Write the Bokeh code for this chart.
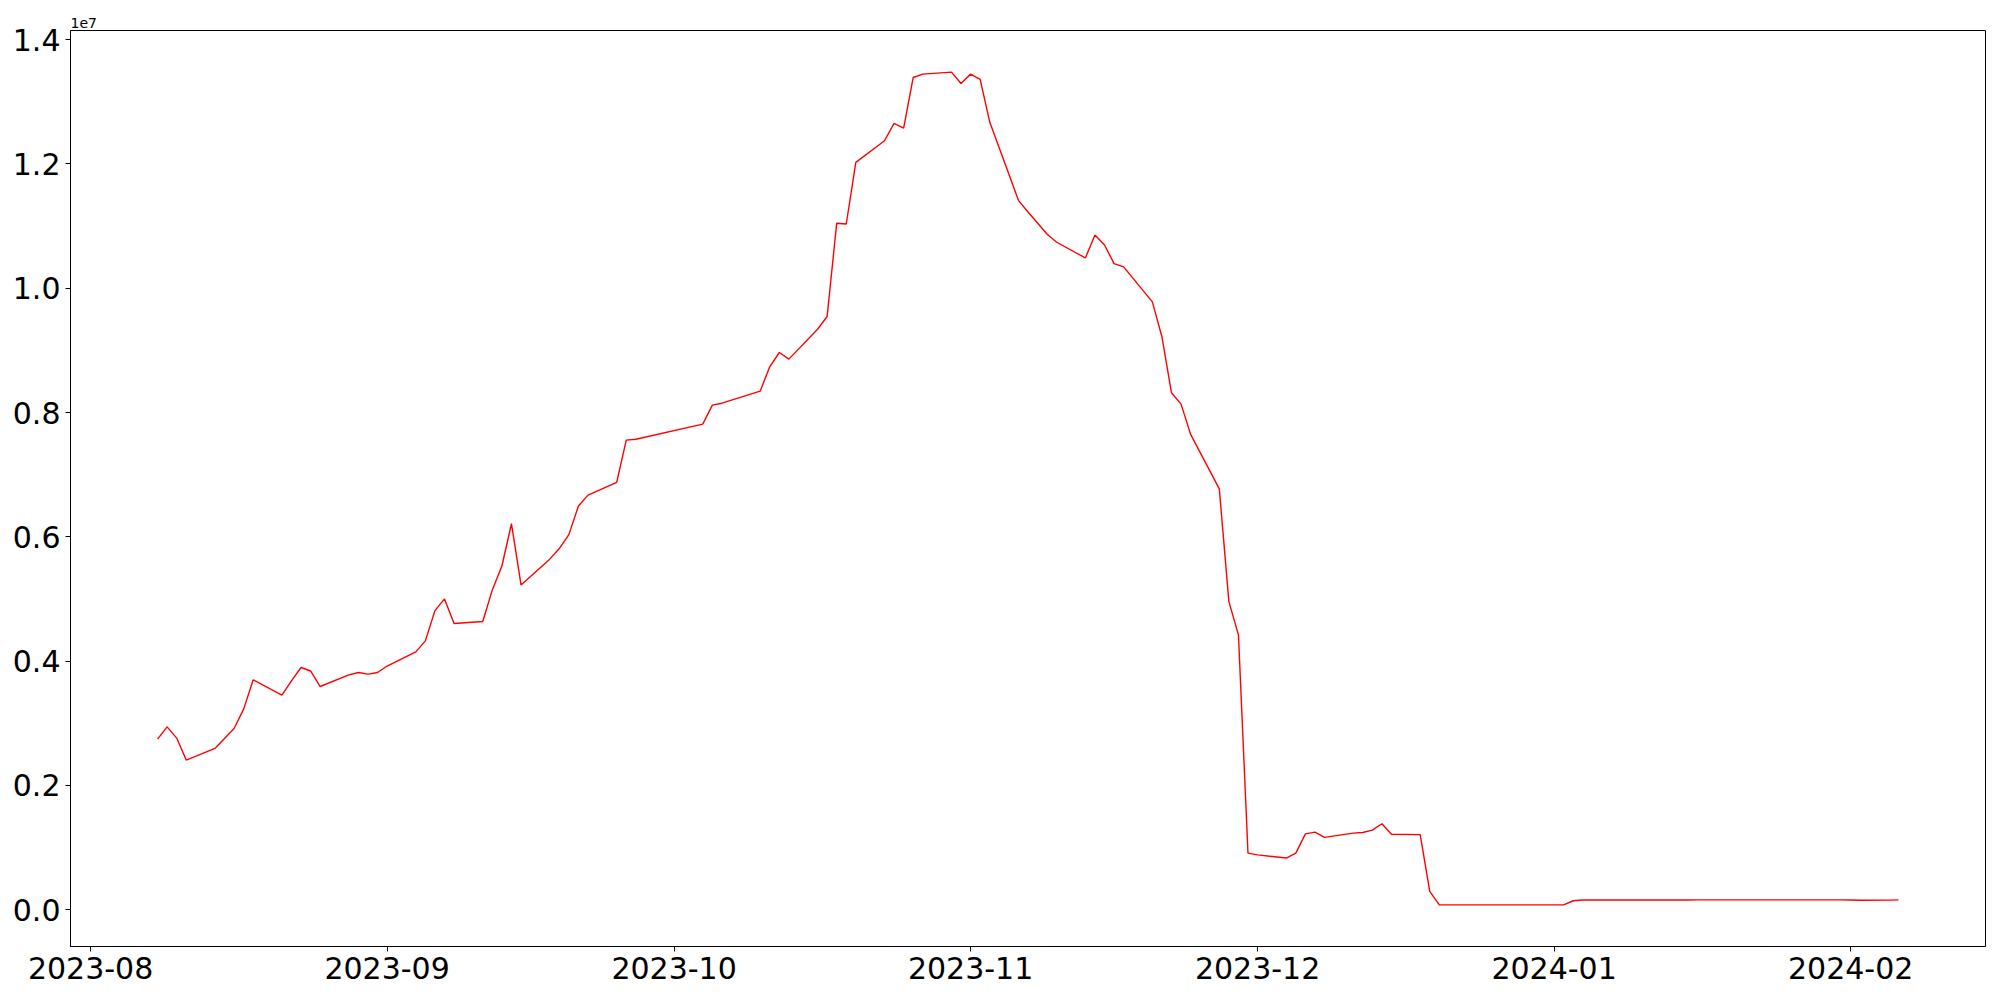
import pandas as pd
from bokeh.plotting import figure
from bokeh.models import Range1d, FixedTicker, CustomJSTickFormatter, ColumnDataSource
from bokeh.embed import file_html
from bokeh.resources import INLINE

dates = [
    "2023-08-08", "2023-08-09", "2023-08-10", "2023-08-11", "2023-08-14", "2023-08-15",
    "2023-08-16", "2023-08-17", "2023-08-18", "2023-08-21", "2023-08-22", "2023-08-23",
    "2023-08-24", "2023-08-25", "2023-08-28", "2023-08-29", "2023-08-30", "2023-08-31",
    "2023-09-01", "2023-09-04", "2023-09-05", "2023-09-06", "2023-09-07", "2023-09-08",
    "2023-09-11", "2023-09-12", "2023-09-13", "2023-09-14", "2023-09-15", "2023-09-18",
    "2023-09-19", "2023-09-20", "2023-09-21", "2023-09-22", "2023-09-25", "2023-09-26",
    "2023-09-27", "2023-10-04", "2023-10-05", "2023-10-06", "2023-10-10", "2023-10-11",
    "2023-10-12", "2023-10-13", "2023-10-16", "2023-10-17", "2023-10-18", "2023-10-19",
    "2023-10-20", "2023-10-23", "2023-10-24", "2023-10-25", "2023-10-26", "2023-10-27",
    "2023-10-30", "2023-10-31", "2023-11-01", "2023-11-02", "2023-11-03", "2023-11-06",
    "2023-11-07", "2023-11-08", "2023-11-09", "2023-11-10", "2023-11-13", "2023-11-14",
    "2023-11-15", "2023-11-16", "2023-11-17", "2023-11-20", "2023-11-21", "2023-11-22",
    "2023-11-23", "2023-11-24", "2023-11-27", "2023-11-28", "2023-11-29", "2023-11-30",
    "2023-12-01", "2023-12-04", "2023-12-05", "2023-12-06", "2023-12-07", "2023-12-08",
    "2023-12-11", "2023-12-12", "2023-12-13", "2023-12-14", "2023-12-15", "2023-12-18",
    "2023-12-19", "2023-12-20", "2023-12-21", "2023-12-22", "2023-12-25", "2023-12-26",
    "2023-12-27", "2023-12-28", "2023-12-29", "2024-01-02", "2024-01-03", "2024-01-04",
    "2024-01-05", "2024-01-08", "2024-01-09", "2024-01-10", "2024-01-11", "2024-01-12",
    "2024-01-15", "2024-01-16", "2024-01-17", "2024-01-18", "2024-01-19", "2024-01-22",
    "2024-01-23", "2024-01-24", "2024-01-25", "2024-01-26", "2024-01-29", "2024-01-30",
    "2024-01-31", "2024-02-01", "2024-02-02", "2024-02-05", "2024-02-06",
]

values = [
    2744000, 2940000, 2760000, 2406000, 2594000, 2755000,
    2915000, 3226000, 3698000, 3450000, 3680000, 3896000,
    3840000, 3590000, 3778000, 3815000, 3790000, 3815000,
    3920000, 4148000, 4325000, 4812000, 5000000, 4604000,
    4636000, 5145000, 5530000, 6210000, 5225000, 5640000,
    5810000, 6035000, 6495000, 6670000, 6876000, 7556000,
    7570000, 7814000, 8119000, 8150000, 8344000, 8735000,
    8966000, 8859000, 9340000, 9545000, 11045000, 11034000,
    12026000, 12374000, 12653000, 12577000, 13392000, 13446000,
    13478000, 13296000, 13446000, 13360000, 12674000, 11415000,
    11227000, 11050000, 10868000, 10740000, 10487000, 10857000,
    10696000, 10397000, 10343000, 9780000, 9220000, 8317000,
    8135000, 7648000, 6770000, 4957000, 4421000, 908000,
    880000, 830000, 908000, 1219000, 1246000, 1162000,
    1230000, 1241000, 1280000, 1382000, 1212000, 1206000,
    293000, 76000, 76000, 76000, 76000, 76000,
    76000, 76000, 76000, 76000, 142000, 155000,
    155000, 155000, 155000, 155000, 155000, 155000,
    155000, 157000, 157000, 157000, 157000, 157000,
    157000, 157000, 157000, 157000, 157000, 157000,
    157000, 155000, 150000, 152000, 156000,
]

y_ticks = [0, 2000000, 4000000, 6000000, 8000000, 10000000, 12000000, 14000000]
x_tick_labels = ["2023-08", "2023-09", "2023-10", "2023-11", "2023-12", "2024-01", "2024-02"]
offset_text = "1e7"


def to_ms(s):
    return pd.Timestamp(s).timestamp() * 1000.0


x_ms = [to_ms(d) for d in dates]
x_ticks = [to_ms(s + "-01") for s in x_tick_labels]

xmin, xmax = min(x_ms), max(x_ms)
xpad = (xmax - xmin) * 0.05
ymin, ymax = min(values), max(values)
ypad = (ymax - ymin) * 0.05

source = ColumnDataSource(data=dict(x=x_ms, y=values))

p = figure(
    width=1992, height=992,
    x_axis_type="datetime",
    x_range=Range1d(xmin - xpad, xmax + xpad),
    y_range=Range1d(ymin - ypad, ymax + ypad),
    output_backend="svg",
    toolbar_location=None,
    min_border_left=70, min_border_right=7,
    min_border_top=30, min_border_bottom=46,
)

p.line("x", "y", source=source, line_color="red", line_width=1.4)

p.xaxis.ticker = FixedTicker(ticks=x_ticks)
p.xaxis.formatter = CustomJSTickFormatter(
    code="const d = new Date(tick); return d.getUTCFullYear() + '-' + String(d.getUTCMonth()+1).padStart(2,'0');"
)
p.yaxis.ticker = FixedTicker(ticks=y_ticks)
p.yaxis.formatter = CustomJSTickFormatter(code="return (tick/1e7).toFixed(1);")

for ax in (p.xaxis[0], p.yaxis[0]):
    ax.major_label_text_font = "DejaVu Sans"
    ax.major_label_text_font_size = "30px"
    ax.major_label_text_color = "black"
    ax.major_tick_out = 5
    ax.major_tick_in = 0
    ax.major_tick_line_color = "black"
    ax.major_tick_line_width = 1
    ax.minor_tick_line_color = None
    ax.axis_line_color = "black"
    ax.axis_line_width = 1
    ax.major_label_standoff = 5

p.xgrid.visible = False
p.ygrid.visible = False
p.outline_line_color = "black"
p.outline_line_width = 1
p.background_fill_color = "white"
p.border_fill_color = "white"

p.title.text = offset_text
p.title.text_font = "DejaVu Sans"
p.title.text_font_size = "14px"
p.title.text_font_style = "normal"
p.title.text_color = "black"
p.title.align = "left"
p.title.offset = 0
p.title.standoff = 5

open("out.html", "w").write(file_html(p, INLINE))
